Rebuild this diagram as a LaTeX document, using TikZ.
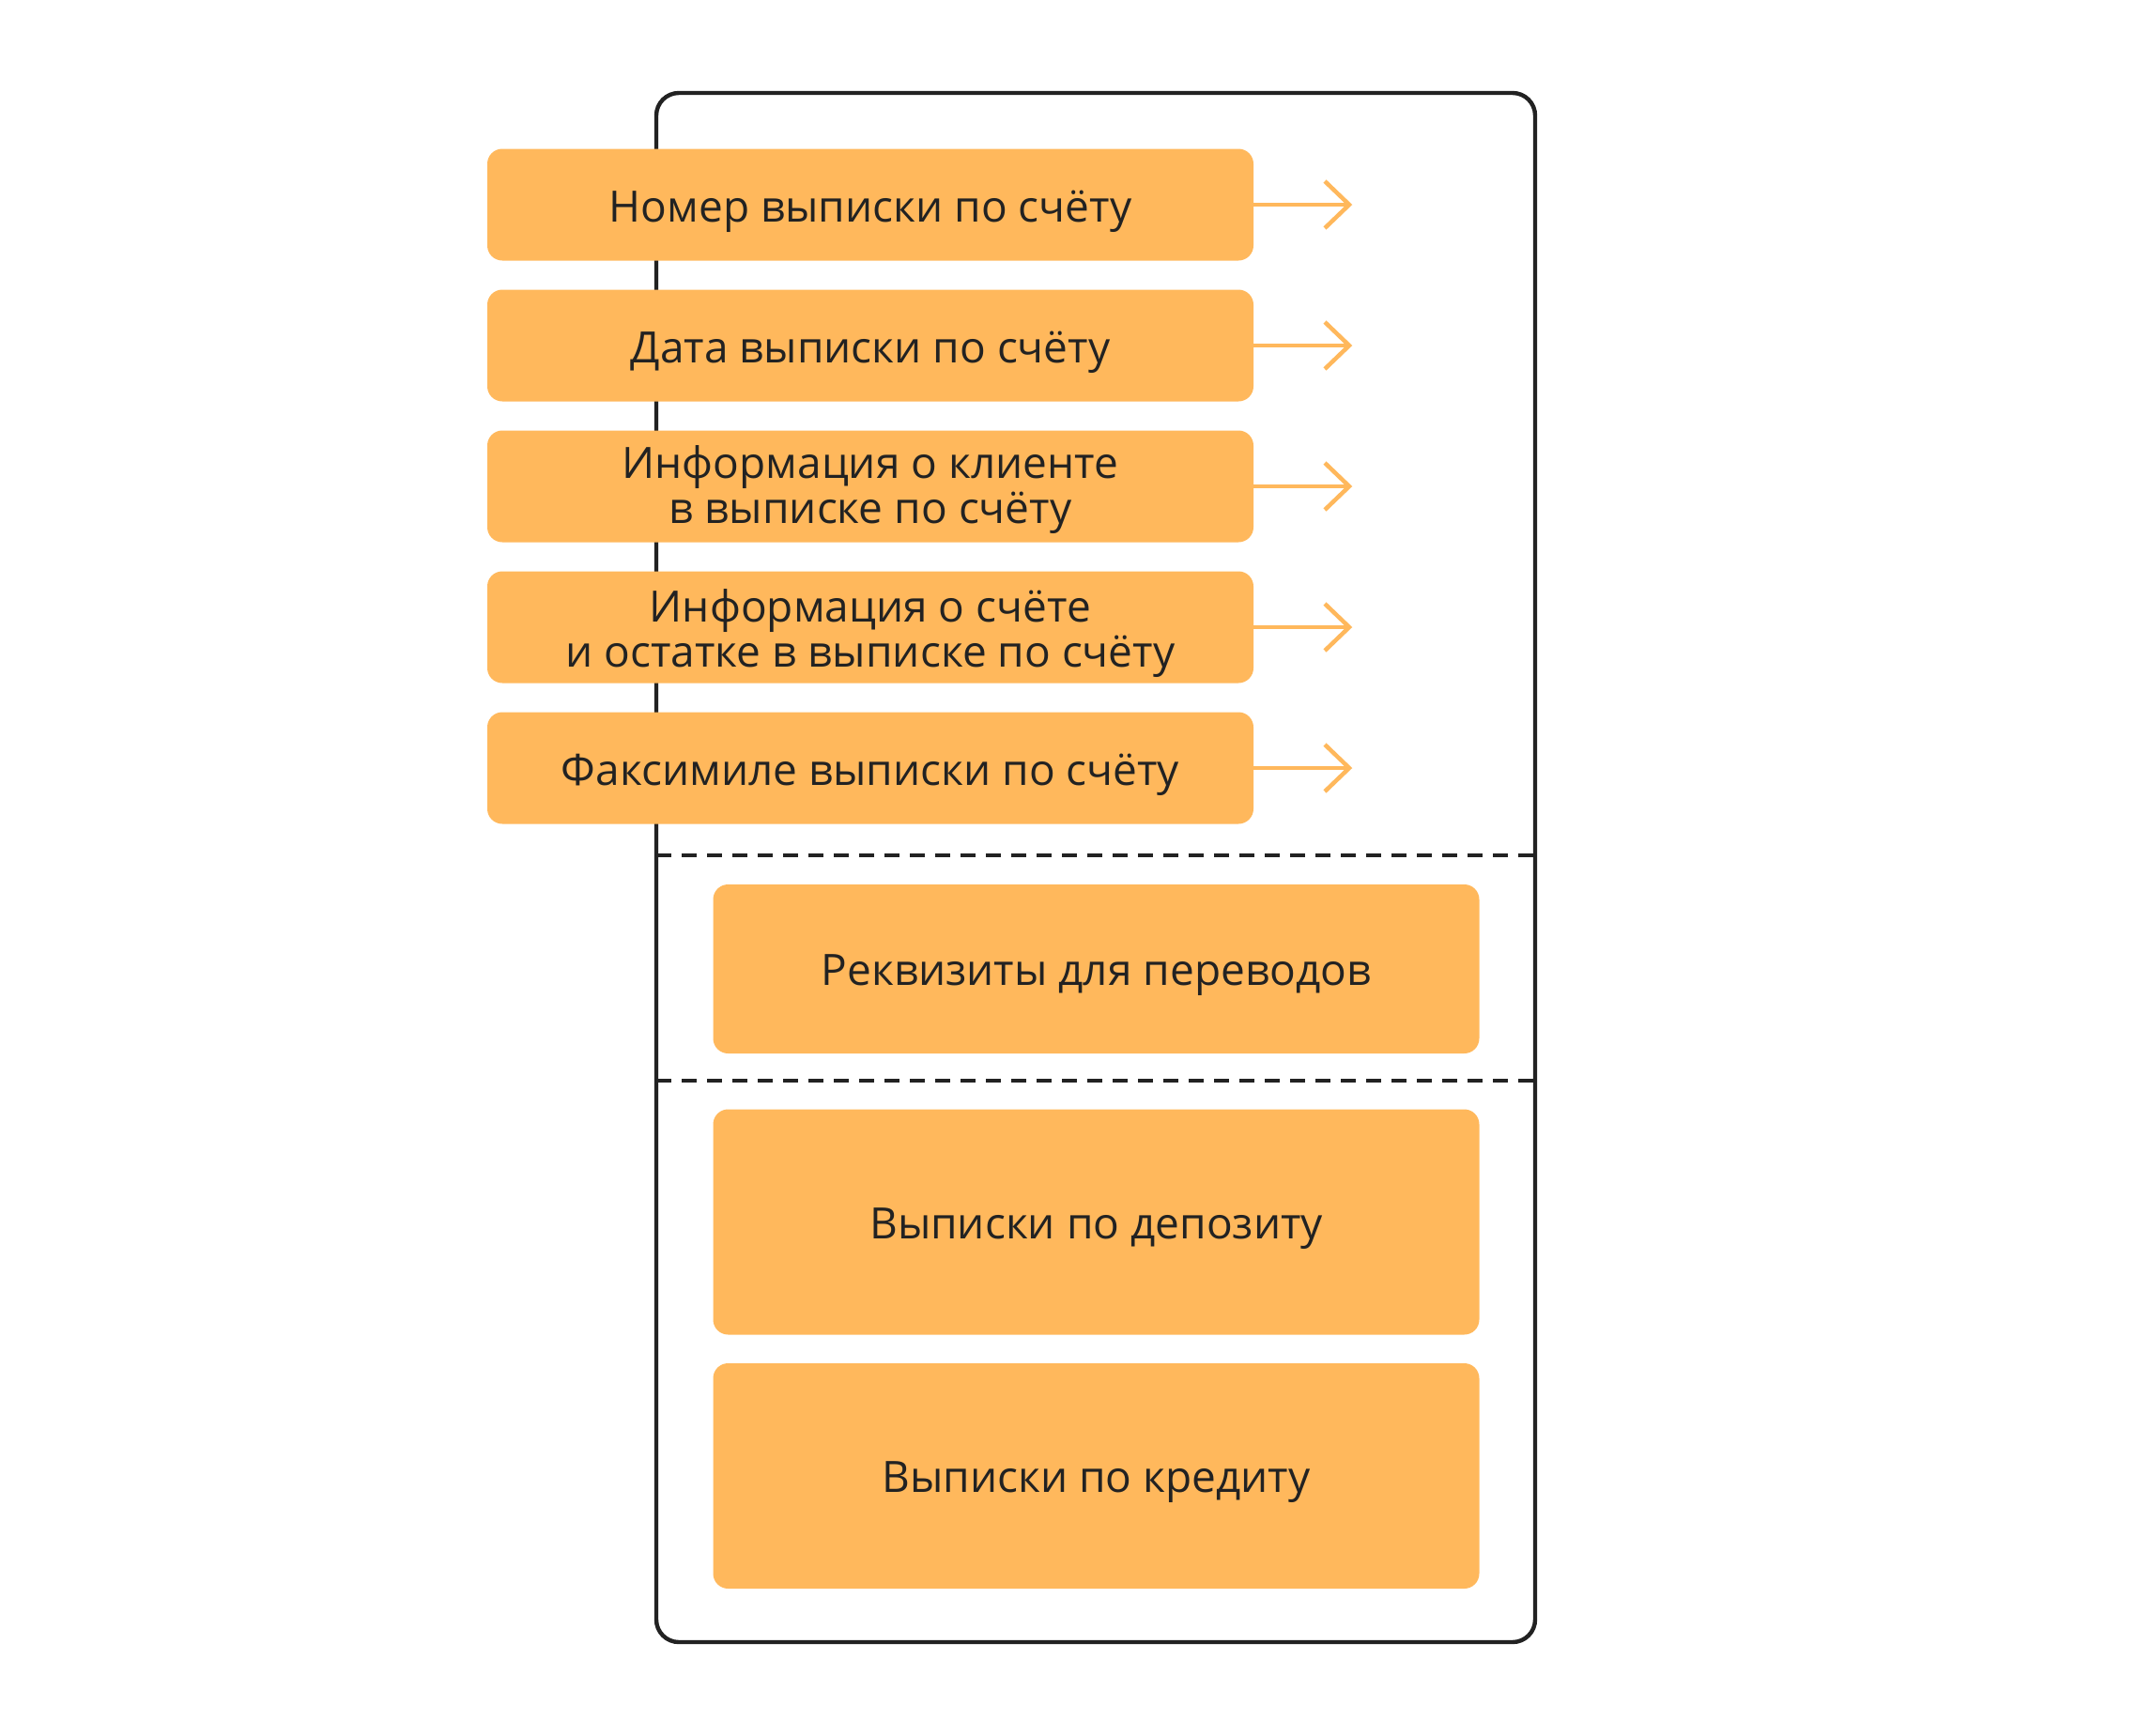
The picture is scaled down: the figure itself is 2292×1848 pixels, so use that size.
\documentclass[tikz,border=0pt]{standalone}
\usepackage{fontspec}
\setmainfont{Open Sans}
\definecolor{boxorange}{HTML}{FFB85C}
\definecolor{ink}{HTML}{222222}
\begin{document}
\begin{tikzpicture}[x=1pt,y=-1pt,
  card/.style={fill=boxorange, rounded corners=16pt, inner sep=0pt, minimum width=816pt},
  topcard/.style={card, minimum height=119pt},
  lbl/.style={inner sep=0pt, align=center, text=ink, font=\fontsize{46}{48}\selectfont},
  arr/.style={draw=boxorange, line width=4.5pt},
  chev/.style={draw=boxorange, line width=4.5pt, line join=miter},
  frame/.style={draw=ink, line width=4.4pt, rounded corners=24pt},
  sep/.style={draw=ink, line width=4.2pt, dash pattern=on 16pt off 11pt}]
\useasboundingbox (0,0) rectangle (2292,1848);
\draw[frame] (699,99) rectangle (1635,1749);
\draw[sep] (699,911) -- (1635,911);
\draw[sep] (699,1151) -- (1635,1151);

\node[topcard] (n1) at (927,218) {};
\node[topcard] (n2) at (927,368) {};
\node[topcard] (n3) at (927,518) {};
\node[topcard] (n4) at (927,668) {};
\node[topcard] (n5) at (927,818) {};
\node[card, minimum height=180pt] (r) at (1167.5,1032) {};
\node[card, minimum height=240pt] (d) at (1167.5,1301.5) {};
\node[card, minimum height=240pt] (c) at (1167.5,1572) {};

\node[lbl] (l1) at ([yshift=-7pt]n1.center) {Номер выписки по счёту};
\node[lbl] (l2) at ([yshift=-7pt]n2.center) {Дата выписки по счёту};
\node[lbl] (l3) at ([yshift=-4pt]n3.center) {Информация о клиенте\\в выписке по счёту};
\node[lbl] (l4) at ([yshift=-7pt]n4.center) {Информация о счёте\\и остатке в выписке по счёту};
\node[lbl] (l5) at ([yshift=-7pt]n5.center) {Факсимиле выписки по счёту};
\node[lbl] (lr) at ([yshift=-7pt]r.center) {Реквизиты для переводов};
\node[lbl] (ld) at ([yshift=-7pt]d.center) {Выписки по депозиту};
\node[lbl] (lc) at ([yshift=-7pt]c.center) {Выписки по кредиту};

\foreach \i/\y in {1/218,2/368,3/518,4/668,5/818}{
  \coordinate (t\i) at (1437,\y);
  \draw[arr] (n\i.east) -- (t\i);
  \draw[chev] ([shift={(-26,-25)}]t\i) -- (t\i) -- ([shift={(-26,25)}]t\i);
}
\end{tikzpicture}
\end{document}
